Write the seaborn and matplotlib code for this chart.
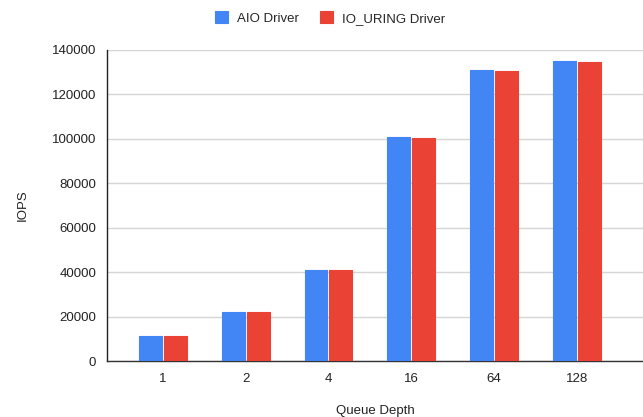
import matplotlib
matplotlib.use("Agg")
import matplotlib.pyplot as plt
import seaborn as sns
import pandas as pd

queue_depths = ["1", "2", "4", "16", "64", "128"]
aio_iops = [11300, 22000, 41100, 101000, 131000, 135000]
io_uring_iops = [11300, 22000, 41100, 100500, 130500, 134600]
series_names = ["AIO Driver", "IO_URING Driver"]
y_ticks = [0, 20000, 40000, 60000, 80000, 100000, 120000, 140000]

df = pd.DataFrame({
    "Queue Depth": queue_depths * 2,
    "IOPS": aio_iops + io_uring_iops,
    "Driver": [series_names[0]] * len(queue_depths) + [series_names[1]] * len(queue_depths),
})

sns.set_theme(style="white")
plt.rcParams["font.family"] = ["Liberation Sans", "DejaVu Sans"]

fig = plt.figure(figsize=(6.43, 4.17), dpi=100)
ax = fig.add_axes([107 / 643, 1 - 361 / 417, (643 - 107) / 643, (361 - 50) / 417])

palette = {series_names[0]: "#4285F4", series_names[1]: "#EA4335"}
sns.barplot(data=df, x="Queue Depth", y="IOPS", hue="Driver", order=queue_depths,
            hue_order=series_names, palette=palette, width=0.6, gap=0.08,
            saturation=1, ax=ax, legend=True, zorder=3)

for p in ax.patches:
    p.set_edgecolor(p.get_facecolor())
    p.set_linewidth(0.8)
    p.set_joinstyle("round")

ax.set_ylim(0, 140000)
ax.set_xlim(-0.676, 5.8)
ax.set_yticks(y_ticks)
ax.set_yticklabels([str(v) for v in y_ticks], fontsize=9.5, color="#222222")
ax.tick_params(axis="x", length=0, labelsize=9.5, labelcolor="#222222", pad=9)
ax.tick_params(axis="y", direction="inout", length=9.5, width=1, color="#222222", pad=3)

ax.grid(axis="y", color="#d6d6d6", linewidth=1, zorder=0)
ax.set_axisbelow(True)
for side in ["top", "right"]:
    ax.spines[side].set_visible(False)
ax.spines["left"].set_color("#222222")
ax.spines["left"].set_linewidth(1)
ax.spines["bottom"].set_color("#333333")
ax.spines["bottom"].set_linewidth(1)

ax.set_ylabel("IOPS", fontsize=9.5, color="#222222", labelpad=17)
ax.set_xlabel("Queue Depth", fontsize=9.5, color="#222222", labelpad=14)

handles, labels = ax.get_legend_handles_labels()
ax.legend(handles, labels, loc="center", bbox_to_anchor=(330 / 643, 1 - 18 / 417),
          bbox_transform=fig.transFigure, ncol=2, frameon=False, fontsize=9.5,
          handlelength=1.0, handleheight=1.0, handletextpad=0.7, columnspacing=1.6)

fig.savefig("out.png", dpi=100)
